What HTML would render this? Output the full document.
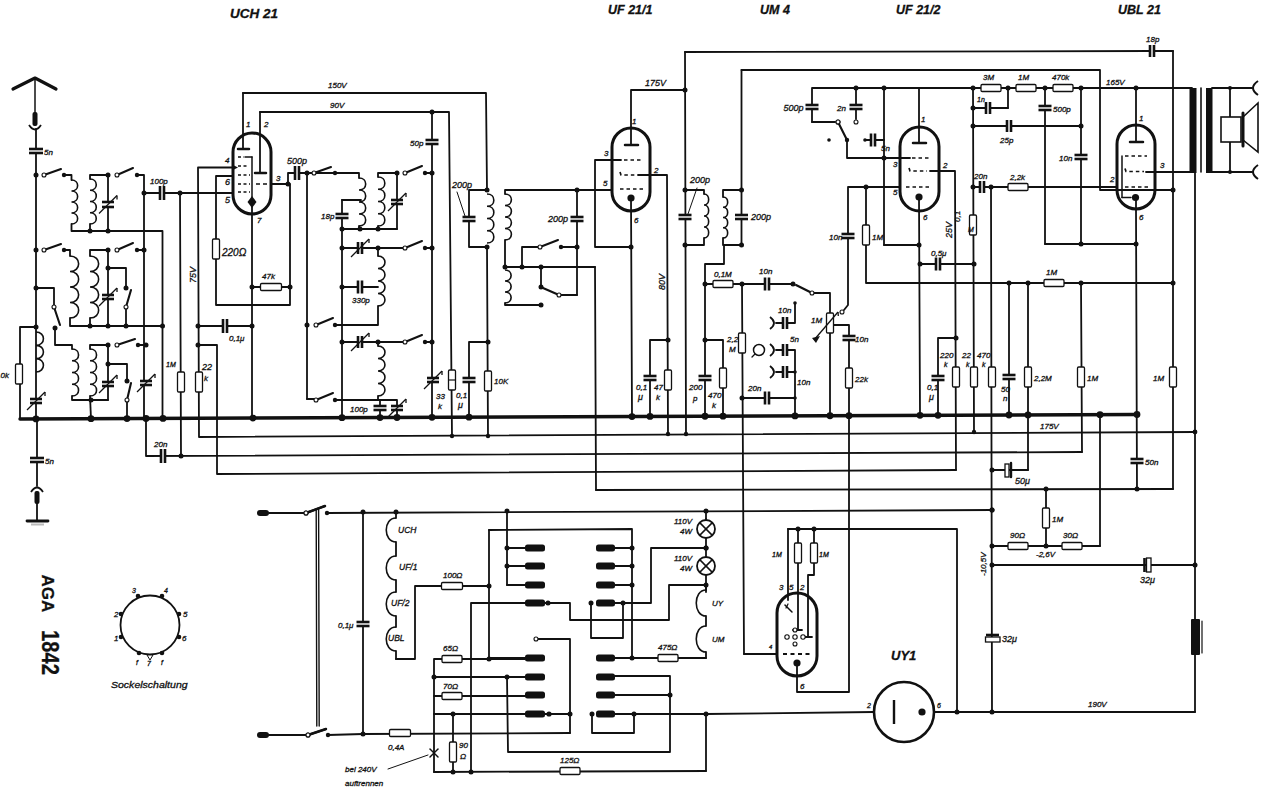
<!DOCTYPE html><html><head><meta charset="utf-8"><style>html,body{margin:0;padding:0;background:#fff;}svg{display:block;}</style></head><body>
<svg width="1275" height="801" viewBox="0 0 1275 801">
<rect width="1275" height="801" fill="#fff"/>
<g stroke="#111" stroke-linecap="round" stroke-linejoin="round" fill="none">
<polyline points="13,89 35,78 56,89" stroke-width="3.2" fill="none"/>
<line x1="35" y1="78" x2="35" y2="113" stroke-width="1.5"/>
<line x1="36" y1="129" x2="36" y2="419" stroke-width="1.8"/>
<line x1="37" y1="419" x2="37" y2="486" stroke-width="1.8"/>
<line x1="37" y1="503" x2="37" y2="520" stroke-width="1.8"/>
<line x1="27" y1="521" x2="48" y2="521" stroke-width="2.8"/>
<polyline points="64,175 71.5,175 71.5,180" stroke-width="1.8" fill="none"/>
<polyline points="71.5,224 71.5,231 162.5,231 162.5,419" stroke-width="1.8" fill="none"/>
<polyline points="108,175 90,175 90,179" stroke-width="1.8" fill="none"/>
<line x1="90" y1="224" x2="90" y2="231" stroke-width="1.8"/>
<line x1="108" y1="175" x2="108" y2="231" stroke-width="1.8"/>
<polyline points="137,175 144,175 144,419" stroke-width="1.8" fill="none"/>
<line x1="144" y1="193" x2="233" y2="193" stroke-width="1.8"/>
<polyline points="64,250 70,250 70,256" stroke-width="1.8" fill="none"/>
<polyline points="70,318 70,326 162.5,326" stroke-width="1.8" fill="none"/>
<polyline points="108,250 90,250 90,256" stroke-width="1.8" fill="none"/>
<line x1="90" y1="318" x2="90" y2="326" stroke-width="1.8"/>
<line x1="108" y1="250" x2="108" y2="326" stroke-width="1.8"/>
<line x1="137" y1="250" x2="144" y2="250" stroke-width="1.8"/>
<polyline points="108,268 126,268 126,288" stroke-width="1.8" fill="none"/>
<line x1="126" y1="307" x2="126" y2="326" stroke-width="1.8"/>
<polyline points="36,288 54,288 54,306" stroke-width="1.8" fill="none"/>
<polyline points="55,328 55,345 72,345 72,349" stroke-width="1.8" fill="none"/>
<polyline points="72,396 72,400 108,400" stroke-width="1.8" fill="none"/>
<polyline points="108,345 90,345 90,349" stroke-width="1.8" fill="none"/>
<line x1="90" y1="396" x2="91" y2="419" stroke-width="1.8"/>
<line x1="108" y1="345" x2="108" y2="400" stroke-width="1.8"/>
<line x1="138" y1="345" x2="146" y2="345" stroke-width="1.8"/>
<polyline points="108,364 127,364 127,381" stroke-width="1.8" fill="none"/>
<line x1="127" y1="400" x2="127" y2="419" stroke-width="1.8"/>
<polyline points="36,327 20,327 20,419" stroke-width="1.8" fill="none"/>
<line x1="20" y1="419" x2="1137" y2="414.5" stroke-width="3.4"/>
<polyline points="146,419 146,456 1082,452" stroke-width="1.8" fill="none"/>
<line x1="180" y1="193" x2="181" y2="456" stroke-width="1.8"/>
<polyline points="233,167.5 198,167.5 199,437 1195,432" stroke-width="1.8" fill="none"/>
<line x1="198" y1="326" x2="252" y2="326" stroke-width="1.8"/>
<polyline points="198,345 217,345 217,474 956,470" stroke-width="1.8" fill="none"/>
<polyline points="233,176 216,176 216,305 290,305 290,184" stroke-width="1.8" fill="none"/>
<line x1="243" y1="93" x2="243" y2="149" stroke-width="1.8"/>
<line x1="238" y1="149" x2="249" y2="149" stroke-width="2.5"/>
<line x1="260" y1="112" x2="260" y2="173" stroke-width="1.8"/>
<line x1="255" y1="173" x2="266" y2="173" stroke-width="2.5"/>
<line x1="245" y1="157" x2="252" y2="157" stroke-width="1.5"/>
<line x1="252" y1="157" x2="252" y2="201" stroke-width="1.5"/>
<line x1="252" y1="202" x2="252" y2="419" stroke-width="1.8"/>
<line x1="271" y1="184" x2="288" y2="184" stroke-width="1.8"/>
<line x1="252" y1="287" x2="290" y2="287" stroke-width="1.8"/>
<polyline points="243,93 486,93 487,190" stroke-width="1.8" fill="none"/>
<polyline points="260,112 449,112 452,436" stroke-width="1.8" fill="none"/>
<polyline points="288,184 288,173 335,173" stroke-width="1.8" fill="none"/>
<polyline points="335,173 359,173 359,178" stroke-width="1.8" fill="none"/>
<line x1="359" y1="226" x2="359" y2="229" stroke-width="1.8"/>
<line x1="342" y1="200" x2="361" y2="200" stroke-width="1.8"/>
<line x1="307" y1="173" x2="307" y2="399" stroke-width="1.8"/>
<line x1="307" y1="399" x2="314" y2="399" stroke-width="1.8"/>
<polyline points="335,325 378,325 378,306" stroke-width="1.8" fill="none"/>
<polyline points="335,400 397,400 397,419" stroke-width="1.8" fill="none"/>
<line x1="380" y1="400" x2="380" y2="419" stroke-width="1.8"/>
<line x1="342" y1="200" x2="342" y2="419" stroke-width="1.8"/>
<line x1="342" y1="229" x2="397" y2="229" stroke-width="1.8"/>
<polyline points="397,173 378,173 378,177" stroke-width="1.8" fill="none"/>
<line x1="378" y1="226" x2="378" y2="229" stroke-width="1.8"/>
<line x1="397" y1="173" x2="397" y2="229" stroke-width="1.8"/>
<line x1="425" y1="173" x2="432" y2="173" stroke-width="1.8"/>
<line x1="342" y1="248" x2="405" y2="248" stroke-width="1.8"/>
<line x1="425" y1="248" x2="432" y2="248" stroke-width="1.8"/>
<line x1="378" y1="248" x2="378" y2="256" stroke-width="1.8"/>
<line x1="342" y1="287" x2="378" y2="287" stroke-width="1.8"/>
<line x1="342" y1="342" x2="405" y2="342" stroke-width="1.8"/>
<line x1="425" y1="342" x2="432" y2="342" stroke-width="1.8"/>
<line x1="378" y1="342" x2="378" y2="346" stroke-width="1.8"/>
<line x1="378" y1="396" x2="378" y2="400" stroke-width="1.8"/>
<line x1="432" y1="112" x2="432" y2="419" stroke-width="1.8"/>
<line x1="448.5" y1="380" x2="455.5" y2="380" stroke-width="1.1"/>
<polyline points="488,342 469,342 469,419" stroke-width="1.8" fill="none"/>
<line x1="487" y1="247" x2="488" y2="436" stroke-width="1.8"/>
<polyline points="487,190 469,190 469,247 487,247" stroke-width="1.8" fill="none"/>
<line x1="457" y1="192" x2="465" y2="216" stroke-width="1"/>
<polyline points="505,194 505,190 612,190" stroke-width="1.8" fill="none"/>
<line x1="577" y1="190" x2="577" y2="295" stroke-width="1.8"/>
<polyline points="505,240 505,267 595,267" stroke-width="1.8" fill="none"/>
<polyline points="522,267 522,247 538,247" stroke-width="1.8" fill="none"/>
<line x1="561" y1="247" x2="577" y2="247" stroke-width="1.8"/>
<line x1="541" y1="267" x2="541" y2="287" stroke-width="1.8"/>
<line x1="559" y1="295" x2="577" y2="295" stroke-width="1.8"/>
<polyline points="505,303 505,305 541,305" stroke-width="1.8" fill="none"/>
<polyline points="631,145 631,90 685,90" stroke-width="1.8" fill="none"/>
<line x1="625" y1="145" x2="638" y2="145" stroke-width="2.5"/>
<polyline points="621,160 595,160 595,247 631,247" stroke-width="1.8" fill="none"/>
<line x1="631" y1="198" x2="632" y2="416" stroke-width="1.8"/>
<line x1="595" y1="267" x2="596" y2="490" stroke-width="1.8"/>
<polyline points="596,490 1173,489" stroke-width="1.8" fill="none"/>
<polyline points="638,175 667,175 668,434" stroke-width="1.8" fill="none"/>
<polyline points="668,340 650,340 650,416" stroke-width="1.8" fill="none"/>
<line x1="685" y1="52" x2="686" y2="434" stroke-width="1.8"/>
<polyline points="685,52 1152,51" stroke-width="1.8" fill="none"/>
<polyline points="685,190 704,190 704,194" stroke-width="1.8" fill="none"/>
<polyline points="704,238 704,245 685,245" stroke-width="1.8" fill="none"/>
<line x1="697" y1="188" x2="688" y2="214" stroke-width="1"/>
<polyline points="741.5,190 723,190 723,197" stroke-width="1.8" fill="none"/>
<polyline points="723,238 723,245 741.5,245" stroke-width="1.8" fill="none"/>
<polyline points="741.5,70 1100,70 1100,190 1173,190" stroke-width="1.8" fill="none"/>
<line x1="741.5" y1="70" x2="741.5" y2="245" stroke-width="1.8"/>
<polyline points="724,245 724,264 705,264 705,416" stroke-width="1.8" fill="none"/>
<line x1="705" y1="284" x2="793" y2="284" stroke-width="1.8"/>
<line x1="742" y1="284" x2="744" y2="654" stroke-width="1.8"/>
<polyline points="812,293 830,293 830,416" stroke-width="1.8" fill="none"/>
<polyline points="844,310 848,305 848,187 900,187" stroke-width="1.8" fill="none"/>
<polyline points="830,325 849,325 849,692 797,692 797,675" stroke-width="1.8" fill="none"/>
<polyline points="705,340 723,340 723,416" stroke-width="1.8" fill="none"/>
<line x1="776" y1="323" x2="782" y2="323" stroke-width="1.8"/>
<polyline points="787,323 795,323 795,303" stroke-width="1.8" fill="none"/>
<line x1="752" y1="357" x2="755" y2="354" stroke-width="1.3"/>
<line x1="776" y1="350" x2="782" y2="350" stroke-width="1.8"/>
<polyline points="787,350 795,350 795,398" stroke-width="1.8" fill="none"/>
<line x1="776" y1="372" x2="782" y2="372" stroke-width="1.8"/>
<line x1="787" y1="372" x2="795" y2="372" stroke-width="1.8"/>
<polyline points="742,398 795,398 795,416" stroke-width="1.8" fill="none"/>
<polyline points="812,122 812,88 1192,88" stroke-width="1.8" fill="none"/>
<line x1="812" y1="122" x2="835" y2="122" stroke-width="1.8"/>
<line x1="856" y1="88" x2="856" y2="119" stroke-width="1.8"/>
<polyline points="847,140 847,158 910,158" stroke-width="1.8" fill="none"/>
<line x1="884" y1="88" x2="884" y2="245" stroke-width="1.8"/>
<line x1="865" y1="140" x2="884" y2="140" stroke-width="1.8"/>
<line x1="919" y1="88" x2="919" y2="143" stroke-width="1.8"/>
<line x1="913" y1="143" x2="926" y2="143" stroke-width="2.5"/>
<line x1="919" y1="197" x2="920" y2="414" stroke-width="1.8"/>
<polyline points="930,171 955,171 956,470" stroke-width="1.8" fill="none"/>
<polyline points="866,187 866,283 1173,283" stroke-width="1.8" fill="none"/>
<line x1="884" y1="245" x2="919" y2="245" stroke-width="1.8"/>
<line x1="920" y1="264" x2="974" y2="264" stroke-width="1.8"/>
<line x1="973" y1="88" x2="974" y2="432" stroke-width="1.8"/>
<line x1="973" y1="108" x2="1008" y2="108" stroke-width="1.8"/>
<line x1="1008" y1="108" x2="1008" y2="88" stroke-width="1.8"/>
<line x1="973" y1="126" x2="1081" y2="126" stroke-width="1.8"/>
<line x1="1045" y1="88" x2="1045" y2="244" stroke-width="1.8"/>
<polyline points="1045,244 1136,244" stroke-width="1.8" fill="none"/>
<line x1="1081" y1="88" x2="1081" y2="244" stroke-width="1.8"/>
<line x1="973" y1="187" x2="1117" y2="187" stroke-width="1.8"/>
<line x1="991" y1="187" x2="992" y2="712" stroke-width="1.8"/>
<line x1="1009" y1="283" x2="1009" y2="414" stroke-width="1.8"/>
<polyline points="1028,283 1028,470 1000,470" stroke-width="1.8" fill="none"/>
<polyline points="1081,283 1082,452" stroke-width="1.8" fill="none"/>
<line x1="1100" y1="414" x2="1100" y2="546" stroke-width="1.8"/>
<line x1="1136" y1="209" x2="1137" y2="489" stroke-width="1.8"/>
<line x1="1173" y1="51" x2="1173" y2="489" stroke-width="1.8"/>
<line x1="1152" y1="51" x2="1173" y2="51" stroke-width="1.8"/>
<polyline points="956,338 938,338 938,414" stroke-width="1.8" fill="none"/>
<line x1="1136" y1="88" x2="1136" y2="142" stroke-width="1.8"/>
<line x1="1130" y1="142" x2="1143" y2="142" stroke-width="2.5"/>
<line x1="1122" y1="156" x2="1122" y2="197.5" stroke-width="1.5"/>
<line x1="1122" y1="197.5" x2="1131" y2="197.5" stroke-width="1.5"/>
<line x1="1146" y1="172" x2="1192" y2="172" stroke-width="1.8"/>
<line x1="1136" y1="198" x2="1136" y2="209" stroke-width="1.8"/>
<line x1="1201" y1="88" x2="1201" y2="172" stroke-width="1.6"/>
<line x1="1195" y1="172" x2="1195" y2="712" stroke-width="1.8"/>
<line x1="1212" y1="88" x2="1252" y2="88" stroke-width="1.8"/>
<line x1="1212" y1="172" x2="1252" y2="172" stroke-width="1.8"/>
<line x1="1230" y1="88" x2="1230" y2="117" stroke-width="1.8"/>
<line x1="1230" y1="142" x2="1230" y2="172" stroke-width="1.8"/>
<line x1="1243" y1="113" x2="1243" y2="146" stroke-width="3"/>
<line x1="269" y1="513" x2="304" y2="513" stroke-width="1.8"/>
<line x1="327" y1="513" x2="992" y2="510" stroke-width="1.8"/>
<line x1="269" y1="735" x2="306" y2="735" stroke-width="1.8"/>
<line x1="328" y1="735" x2="363" y2="734" stroke-width="1.8"/>
<line x1="363" y1="734" x2="570" y2="733" stroke-width="1.8"/>
<line x1="316.2" y1="509" x2="316.8" y2="726" stroke-width="1.4"/>
<line x1="318.6" y1="509" x2="319.2" y2="726" stroke-width="1.4"/>
<line x1="363" y1="512" x2="363" y2="734" stroke-width="1.8"/>
<line x1="396" y1="512" x2="396" y2="518" stroke-width="1.8"/>
<line x1="396" y1="542" x2="396" y2="556" stroke-width="1.8"/>
<line x1="396" y1="580" x2="396" y2="592" stroke-width="1.8"/>
<line x1="396" y1="616" x2="396" y2="627" stroke-width="1.8"/>
<line x1="396" y1="651" x2="396" y2="659" stroke-width="1.8"/>
<polyline points="396,659 415,659 415,586 489,586" stroke-width="1.8" fill="none"/>
<polyline points="489,530 632,529 632,658" stroke-width="1.8" fill="none"/>
<line x1="489" y1="530" x2="489" y2="659" stroke-width="1.8"/>
<line x1="507" y1="511" x2="507" y2="585" stroke-width="1.8"/>
<line x1="507" y1="548" x2="525" y2="548" stroke-width="1.8"/>
<line x1="615" y1="548" x2="632" y2="548" stroke-width="1.8"/>
<line x1="507" y1="566" x2="525" y2="566" stroke-width="1.8"/>
<line x1="615" y1="566" x2="632" y2="566" stroke-width="1.8"/>
<line x1="507" y1="585" x2="525" y2="585" stroke-width="1.8"/>
<line x1="615" y1="585" x2="632" y2="585" stroke-width="1.8"/>
<line x1="545" y1="603" x2="548" y2="603" stroke-width="1.8"/>
<polyline points="548,603 570,603 570,620 669,620 669,585 706,585" stroke-width="1.8" fill="none"/>
<polyline points="471,772 471,603 525,603" stroke-width="1.8" fill="none"/>
<polyline points="591,603 591,638 623,638 623,603" stroke-width="1.8" fill="none"/>
<polyline points="615,603 651,603 651,548 706,548" stroke-width="1.8" fill="none"/>
<polyline points="538,639 570,639 570,733" stroke-width="1.8" fill="none"/>
<line x1="545" y1="714" x2="570" y2="714" stroke-width="1.8"/>
<line x1="706" y1="511" x2="706" y2="519" stroke-width="1.8"/>
<line x1="706" y1="519" x2="706" y2="592" stroke-width="1.8"/>
<line x1="706" y1="585" x2="706" y2="590" stroke-width="1.8"/>
<line x1="706" y1="616" x2="706" y2="626" stroke-width="1.8"/>
<line x1="706" y1="652" x2="706" y2="658" stroke-width="1.8"/>
<polyline points="632,658 706,658" stroke-width="1.8" fill="none"/>
<line x1="489" y1="658" x2="525" y2="658" stroke-width="1.8"/>
<line x1="615" y1="658" x2="632" y2="658" stroke-width="1.8"/>
<polyline points="434,772 434,659 442,659" stroke-width="1.8" fill="none"/>
<line x1="462" y1="659" x2="525" y2="659" stroke-width="1.8"/>
<line x1="434" y1="677" x2="525" y2="677" stroke-width="1.8"/>
<polyline points="507,677 508,752 670,752 670,676 615,676" stroke-width="1.8" fill="none"/>
<line x1="434" y1="696" x2="525" y2="696" stroke-width="1.8"/>
<polyline points="615,695 670,695" stroke-width="1.8" fill="none"/>
<polyline points="434,714 525,714" stroke-width="1.8" fill="none"/>
<line x1="453" y1="714" x2="453" y2="772" stroke-width="1.8"/>
<line x1="434" y1="772" x2="706" y2="771" stroke-width="1.8"/>
<polyline points="592,714 592,733 634,733 634,714" stroke-width="1.8" fill="none"/>
<line x1="615" y1="714" x2="706" y2="714" stroke-width="1.8"/>
<line x1="706" y1="714" x2="874" y2="712" stroke-width="1.8"/>
<line x1="706" y1="714" x2="706" y2="771" stroke-width="1.8"/>
<line x1="430" y1="749" x2="438" y2="757" stroke-width="1.5"/>
<line x1="430" y1="757" x2="438" y2="749" stroke-width="1.5"/>
<line x1="388" y1="769" x2="428" y2="755" stroke-width="1"/>
<line x1="744" y1="654" x2="777" y2="654" stroke-width="1.8"/>
<polyline points="788,529 957,529 957,712" stroke-width="1.8" fill="none"/>
<line x1="788" y1="529" x2="788" y2="600" stroke-width="1.8"/>
<line x1="798" y1="529" x2="798" y2="630" stroke-width="1.8"/>
<polyline points="814,529 814,575 808,575 808,637" stroke-width="1.8" fill="none"/>
<line x1="785" y1="605" x2="792" y2="612" stroke-width="1.5"/>
<line x1="788" y1="604" x2="786" y2="608" stroke-width="1.2"/>
<line x1="793" y1="630" x2="802" y2="630" stroke-width="1.8"/>
<line x1="804" y1="637" x2="812" y2="637" stroke-width="1.8"/>
<line x1="797" y1="663" x2="797" y2="676" stroke-width="1.8"/>
<line x1="922" y1="712" x2="934" y2="712" stroke-width="1.8"/>
<line x1="934" y1="712" x2="1195" y2="712" stroke-width="1.8"/>
<line x1="992" y1="470" x2="1003" y2="470" stroke-width="1.8"/>
<line x1="1011" y1="463" x2="1011" y2="477" stroke-width="2.4"/>
<polyline points="1012,470 1028,470" stroke-width="1.8" fill="none"/>
<line x1="1046" y1="489" x2="1046" y2="546" stroke-width="1.8"/>
<line x1="992" y1="546" x2="1100" y2="546" stroke-width="1.8"/>
<line x1="992" y1="565" x2="1195" y2="565" stroke-width="1.8"/>
<line x1="1202" y1="621" x2="1202" y2="653" stroke-width="1.2"/>
</g>
<g stroke="#111" stroke-linecap="butt" fill="none">
<rect x="32.5" y="112" width="5" height="14" rx="2" fill="#111" stroke="none"/>
<path d="M29,125 Q35,134 41,125" fill="none" stroke-width="1.8"/>
<rect x="29" y="149" width="14" height="4" fill="#fff" stroke="none"/>
<line x1="29" y1="149" x2="43" y2="149" stroke-width="2.6"/>
<line x1="29" y1="153" x2="43" y2="153" stroke-width="2.6"/>
<rect x="30" y="458" width="14" height="4" fill="#fff" stroke="none"/>
<line x1="30" y1="458" x2="44" y2="458" stroke-width="2.6"/>
<line x1="30" y1="462" x2="44" y2="462" stroke-width="2.6"/>
<path d="M31,492 Q37,483 43,492" fill="none" stroke-width="1.8"/>
<rect x="34.5" y="491" width="5" height="13" rx="2" fill="#111" stroke="none"/>
<line x1="31" y1="524.5" x2="44" y2="524.5" stroke="#bbb" stroke-width="2"/>
<circle cx="36" cy="175" r="2.5" fill="#111" stroke="none"/>
<line x1="44" y1="175" x2="61" y2="169" stroke-width="2.1" stroke-linecap="round"/>
<circle cx="44" cy="175" r="2" fill="#fff" stroke-width="1.1"/>
<circle cx="64" cy="175" r="2.2" fill="#111" stroke="none"/>
<path d="M71.5,180 C79.67,180 79.67,191 71.5,191 C79.67,191 79.67,202 71.5,202 C79.67,202 79.67,213 71.5,213 C79.67,213 79.67,224 71.5,224" fill="none" stroke-width="1.6"/>
<path d="M90,179 C98.35,179 98.35,190.25 90,190.25 C98.35,190.25 98.35,201.5 90,201.5 C98.35,201.5 98.35,212.75 90,212.75 C98.35,212.75 98.35,224 90,224" fill="none" stroke-width="1.6"/>
<circle cx="90" cy="231" r="2.5" fill="#111" stroke="none"/>
<circle cx="108" cy="231" r="2.5" fill="#111" stroke="none"/>
<rect x="102" y="202" width="12" height="5" fill="#fff" stroke="none"/>
<line x1="102" y1="202" x2="114" y2="202" stroke-width="2.6"/>
<line x1="102" y1="207" x2="114" y2="207" stroke-width="2.6"/>
<line x1="99" y1="213.5" x2="117" y2="195.5" stroke-width="1.3"/>
<line x1="117" y1="195.5" x2="117" y2="199.5" stroke-width="1.3"/>
<circle cx="108" cy="175" r="2.5" fill="#111" stroke="none"/>
<line x1="117" y1="175" x2="133" y2="168" stroke-width="2.1" stroke-linecap="round"/>
<circle cx="117" cy="175" r="2" fill="#fff" stroke-width="1.1"/>
<circle cx="137" cy="175" r="2.2" fill="#111" stroke="none"/>
<circle cx="144" cy="193" r="2.5" fill="#111" stroke="none"/>
<rect x="160" y="186" width="4" height="14" fill="#fff" stroke="none"/>
<line x1="160" y1="186" x2="160" y2="200" stroke-width="2.6"/>
<line x1="164" y1="186" x2="164" y2="200" stroke-width="2.6"/>
<circle cx="180" cy="193" r="2.5" fill="#111" stroke="none"/>
<circle cx="36" cy="250" r="2.5" fill="#111" stroke="none"/>
<line x1="44" y1="250" x2="61" y2="244" stroke-width="2.1" stroke-linecap="round"/>
<circle cx="44" cy="250" r="2" fill="#fff" stroke-width="1.1"/>
<circle cx="64" cy="250" r="2.2" fill="#111" stroke="none"/>
<path d="M70,256 C81.51,256 81.51,271.5 70,271.5 C81.51,271.5 81.51,287 70,287 C81.51,287 81.51,302.5 70,302.5 C81.51,302.5 81.51,318 70,318" fill="none" stroke-width="1.6"/>
<path d="M90,256 C101.51,256 101.51,271.5 90,271.5 C101.51,271.5 101.51,287 90,287 C101.51,287 101.51,302.5 90,302.5 C101.51,302.5 101.51,318 90,318" fill="none" stroke-width="1.6"/>
<rect x="102" y="295" width="12" height="4" fill="#fff" stroke="none"/>
<line x1="102" y1="295" x2="114" y2="295" stroke-width="2.6"/>
<line x1="102" y1="299" x2="114" y2="299" stroke-width="2.6"/>
<line x1="99" y1="306" x2="117" y2="288" stroke-width="1.3"/>
<line x1="117" y1="288" x2="117" y2="292" stroke-width="1.3"/>
<circle cx="108" cy="250" r="2.5" fill="#111" stroke="none"/>
<line x1="117" y1="250" x2="133" y2="243" stroke-width="2.1" stroke-linecap="round"/>
<circle cx="117" cy="250" r="2" fill="#fff" stroke-width="1.1"/>
<circle cx="137" cy="250" r="2.2" fill="#111" stroke="none"/>
<circle cx="144" cy="250" r="2.5" fill="#111" stroke="none"/>
<circle cx="108" cy="268" r="2.5" fill="#111" stroke="none"/>
<circle cx="126" cy="288" r="2.5" fill="#111" stroke="none"/>
<line x1="126" y1="307" x2="131" y2="290" stroke-width="2.1" stroke-linecap="round"/>
<circle cx="126" cy="307" r="2" fill="#fff" stroke-width="1.1"/>
<circle cx="90" cy="326" r="2.5" fill="#111" stroke="none"/>
<circle cx="108" cy="326" r="2.5" fill="#111" stroke="none"/>
<circle cx="126" cy="326" r="2.5" fill="#111" stroke="none"/>
<circle cx="162.5" cy="326" r="2.5" fill="#111" stroke="none"/>
<circle cx="36" cy="288" r="2.5" fill="#111" stroke="none"/>
<line x1="54" y1="307" x2="60" y2="325" stroke-width="2.1" stroke-linecap="round"/>
<circle cx="54" cy="307" r="2" fill="#fff" stroke-width="1.1"/>
<circle cx="55" cy="328" r="2.5" fill="#111" stroke="none"/>
<path d="M72,349 C80.72,349 80.72,360.75 72,360.75 C80.72,360.75 80.72,372.5 72,372.5 C80.72,372.5 80.72,384.25 72,384.25 C80.72,384.25 80.72,396 72,396" fill="none" stroke-width="1.6"/>
<path d="M90,349 C98.72,349 98.72,360.75 90,360.75 C98.72,360.75 98.72,372.5 90,372.5 C98.72,372.5 98.72,384.25 90,384.25 C98.72,384.25 98.72,396 90,396" fill="none" stroke-width="1.6"/>
<circle cx="91" cy="400" r="2.5" fill="#111" stroke="none"/>
<rect x="102" y="382" width="12" height="4" fill="#fff" stroke="none"/>
<line x1="102" y1="382" x2="114" y2="382" stroke-width="2.6"/>
<line x1="102" y1="386" x2="114" y2="386" stroke-width="2.6"/>
<line x1="99" y1="393" x2="117" y2="375" stroke-width="1.3"/>
<line x1="117" y1="375" x2="117" y2="379" stroke-width="1.3"/>
<circle cx="108" cy="345" r="2.5" fill="#111" stroke="none"/>
<line x1="117" y1="345" x2="135" y2="339" stroke-width="2.1" stroke-linecap="round"/>
<circle cx="117" cy="345" r="2" fill="#fff" stroke-width="1.1"/>
<circle cx="138" cy="345" r="2.2" fill="#111" stroke="none"/>
<circle cx="146" cy="345" r="2.5" fill="#111" stroke="none"/>
<circle cx="108" cy="364" r="2.5" fill="#111" stroke="none"/>
<circle cx="127" cy="381" r="2.5" fill="#111" stroke="none"/>
<line x1="127" y1="400" x2="131" y2="383" stroke-width="2.1" stroke-linecap="round"/>
<circle cx="127" cy="400" r="2" fill="#fff" stroke-width="1.1"/>
<rect x="140" y="381" width="12" height="4" fill="#fff" stroke="none"/>
<line x1="140" y1="381" x2="152" y2="381" stroke-width="2.6"/>
<line x1="140" y1="385" x2="152" y2="385" stroke-width="2.6"/>
<line x1="137" y1="392" x2="155" y2="374" stroke-width="1.3"/>
<line x1="155" y1="374" x2="155" y2="378" stroke-width="1.3"/>
<circle cx="36" cy="327" r="2.5" fill="#111" stroke="none"/>
<rect x="15.5" y="364" width="7" height="20" rx="1.2" fill="#fff" stroke-width="1.3"/>
<path d="M36,332 C45.9,332 45.9,345.33 36,345.33 C45.9,345.33 45.9,358.67 36,358.67 C45.9,358.67 45.9,372 36,372" fill="none" stroke-width="1.6"/>
<rect x="30" y="399" width="12" height="4" fill="#fff" stroke="none"/>
<line x1="30" y1="399" x2="42" y2="399" stroke-width="2.6"/>
<line x1="30" y1="403" x2="42" y2="403" stroke-width="2.6"/>
<line x1="27" y1="410" x2="45" y2="392" stroke-width="1.3"/>
<line x1="45" y1="392" x2="45" y2="396" stroke-width="1.3"/>
<circle cx="36" cy="418.94" r="3.4" fill="#111" stroke="none"/>
<circle cx="91" cy="418.71" r="3.4" fill="#111" stroke="none"/>
<circle cx="127" cy="418.57" r="3.4" fill="#111" stroke="none"/>
<circle cx="146" cy="418.49" r="3.4" fill="#111" stroke="none"/>
<circle cx="163" cy="418.42" r="3.4" fill="#111" stroke="none"/>
<circle cx="253" cy="418.06" r="3.4" fill="#111" stroke="none"/>
<circle cx="342" cy="417.7" r="3.4" fill="#111" stroke="none"/>
<circle cx="380" cy="417.55" r="3.4" fill="#111" stroke="none"/>
<circle cx="397" cy="417.48" r="3.4" fill="#111" stroke="none"/>
<circle cx="432" cy="417.34" r="3.4" fill="#111" stroke="none"/>
<circle cx="469" cy="417.19" r="3.4" fill="#111" stroke="none"/>
<circle cx="632" cy="416.53" r="3.4" fill="#111" stroke="none"/>
<circle cx="650" cy="416.46" r="3.4" fill="#111" stroke="none"/>
<circle cx="705" cy="416.24" r="3.4" fill="#111" stroke="none"/>
<circle cx="723" cy="416.17" r="3.4" fill="#111" stroke="none"/>
<circle cx="795" cy="415.88" r="3.4" fill="#111" stroke="none"/>
<circle cx="830" cy="415.74" r="3.4" fill="#111" stroke="none"/>
<circle cx="849" cy="415.66" r="3.4" fill="#111" stroke="none"/>
<circle cx="920" cy="415.37" r="3.4" fill="#111" stroke="none"/>
<circle cx="938" cy="415.3" r="3.4" fill="#111" stroke="none"/>
<circle cx="1009" cy="415.02" r="3.4" fill="#111" stroke="none"/>
<circle cx="1028" cy="414.94" r="3.4" fill="#111" stroke="none"/>
<circle cx="1100" cy="414.65" r="3.4" fill="#111" stroke="none"/>
<circle cx="1137" cy="414.5" r="3.4" fill="#111" stroke="none"/>
<rect x="161" y="449" width="4" height="14" fill="#fff" stroke="none"/>
<line x1="161" y1="449" x2="161" y2="463" stroke-width="2.6"/>
<line x1="165" y1="449" x2="165" y2="463" stroke-width="2.6"/>
<circle cx="181" cy="456" r="2.5" fill="#111" stroke="none"/>
<rect x="177.5" y="372" width="7" height="20" rx="1.2" fill="#fff" stroke-width="1.3"/>
<rect x="195.5" y="372" width="7" height="20" rx="1.2" fill="#fff" stroke-width="1.3"/>
<circle cx="198" cy="326" r="2.5" fill="#111" stroke="none"/>
<circle cx="198" cy="345" r="2.5" fill="#111" stroke="none"/>
<rect x="223" y="319" width="4" height="14" fill="#fff" stroke="none"/>
<line x1="223" y1="319" x2="223" y2="333" stroke-width="2.6"/>
<line x1="227" y1="319" x2="227" y2="333" stroke-width="2.6"/>
<rect x="212.5" y="239" width="7" height="20" rx="1.2" fill="#fff" stroke-width="1.3"/>
<rect x="233" y="133" width="38" height="81" rx="19" ry="19" fill="none" stroke-width="3"/>
<line x1="238" y1="157" x2="244" y2="157" stroke-width="1.6" stroke-dasharray="3 2.5"/>
<line x1="238" y1="166" x2="249" y2="166" stroke-width="1.6" stroke-dasharray="3 2.5"/>
<line x1="238" y1="175" x2="250" y2="175" stroke-width="1.6" stroke-dasharray="3 2.5"/>
<line x1="238" y1="184" x2="250" y2="184" stroke-width="1.6" stroke-dasharray="3 2.5"/>
<line x1="256" y1="184" x2="271" y2="184" stroke-width="1.6" stroke-dasharray="4 3"/>
<line x1="238" y1="192" x2="250" y2="192" stroke-width="1.6" stroke-dasharray="3 2.5"/>
<path d="M252,196 L256.5,202 L252,208 L247.5,202 Z" fill="#111" stroke="none"/>
<circle cx="288" cy="184" r="2.5" fill="#111" stroke="none"/>
<path d="M233,165 L238,167.5 L233,170 Z" fill="#111" stroke="none"/>
<circle cx="252" cy="287" r="2.5" fill="#111" stroke="none"/>
<rect x="260.5" y="283.5" width="21" height="7" rx="1.2" fill="#fff" stroke-width="1.3"/>
<circle cx="290" cy="287" r="2.5" fill="#111" stroke="none"/>
<circle cx="252" cy="326" r="2.5" fill="#111" stroke="none"/>
<circle cx="432" cy="112" r="2.5" fill="#111" stroke="none"/>
<rect x="295" y="166" width="4" height="14" fill="#fff" stroke="none"/>
<line x1="295" y1="166" x2="295" y2="180" stroke-width="2.6"/>
<line x1="299" y1="166" x2="299" y2="180" stroke-width="2.6"/>
<circle cx="307" cy="173" r="2.5" fill="#111" stroke="none"/>
<line x1="314" y1="173" x2="331" y2="167" stroke-width="2.1" stroke-linecap="round"/>
<circle cx="314" cy="173" r="2" fill="#fff" stroke-width="1.1"/>
<circle cx="335" cy="173" r="2.2" fill="#111" stroke="none"/>
<path d="M359,178 C367.91,178 367.91,190 359,190 C367.91,190 367.91,202 359,202 C367.91,202 367.91,214 359,214 C367.91,214 367.91,226 359,226" fill="none" stroke-width="1.6"/>
<circle cx="307" cy="325" r="2.5" fill="#111" stroke="none"/>
<line x1="316" y1="325" x2="333" y2="318" stroke-width="2.1" stroke-linecap="round"/>
<circle cx="316" cy="325" r="2" fill="#fff" stroke-width="1.1"/>
<circle cx="335" cy="325" r="2.2" fill="#111" stroke="none"/>
<line x1="316" y1="400" x2="333" y2="393" stroke-width="2.1" stroke-linecap="round"/>
<circle cx="316" cy="400" r="2" fill="#fff" stroke-width="1.1"/>
<circle cx="335" cy="400" r="2.2" fill="#111" stroke="none"/>
<rect x="373.5" y="406" width="13" height="4" fill="#fff" stroke="none"/>
<line x1="373.5" y1="406" x2="386.5" y2="406" stroke-width="2.6"/>
<line x1="373.5" y1="410" x2="386.5" y2="410" stroke-width="2.6"/>
<rect x="391" y="406" width="12" height="4" fill="#fff" stroke="none"/>
<line x1="391" y1="406" x2="403" y2="406" stroke-width="2.6"/>
<line x1="391" y1="410" x2="403" y2="410" stroke-width="2.6"/>
<line x1="388" y1="417" x2="406" y2="399" stroke-width="1.3"/>
<line x1="406" y1="399" x2="406" y2="403" stroke-width="1.3"/>
<rect x="335.5" y="214" width="13" height="4" fill="#fff" stroke="none"/>
<line x1="335.5" y1="214" x2="348.5" y2="214" stroke-width="2.6"/>
<line x1="335.5" y1="218" x2="348.5" y2="218" stroke-width="2.6"/>
<circle cx="342" cy="229" r="2.5" fill="#111" stroke="none"/>
<circle cx="360" cy="229" r="2.5" fill="#111" stroke="none"/>
<circle cx="378" cy="229" r="2.5" fill="#111" stroke="none"/>
<path d="M378,177 C387.1,177 387.1,189.25 378,189.25 C387.1,189.25 387.1,201.5 378,201.5 C387.1,201.5 387.1,213.75 378,213.75 C387.1,213.75 387.1,226 378,226" fill="none" stroke-width="1.6"/>
<rect x="391" y="200" width="12" height="4" fill="#fff" stroke="none"/>
<line x1="391" y1="200" x2="403" y2="200" stroke-width="2.6"/>
<line x1="391" y1="204" x2="403" y2="204" stroke-width="2.6"/>
<line x1="388" y1="211" x2="406" y2="193" stroke-width="1.3"/>
<line x1="406" y1="193" x2="406" y2="197" stroke-width="1.3"/>
<circle cx="397" cy="173" r="2.5" fill="#111" stroke="none"/>
<line x1="405" y1="173" x2="422" y2="166" stroke-width="2.1" stroke-linecap="round"/>
<circle cx="405" cy="173" r="2" fill="#fff" stroke-width="1.1"/>
<circle cx="425" cy="173" r="2.2" fill="#111" stroke="none"/>
<circle cx="432" cy="173" r="2.5" fill="#111" stroke="none"/>
<circle cx="342" cy="248" r="2.5" fill="#111" stroke="none"/>
<circle cx="342" cy="287" r="2.5" fill="#111" stroke="none"/>
<circle cx="342" cy="342" r="2.5" fill="#111" stroke="none"/>
<rect x="358" y="242" width="4" height="12" fill="#fff" stroke="none"/>
<line x1="358" y1="242" x2="358" y2="254" stroke-width="2.6"/>
<line x1="362" y1="242" x2="362" y2="254" stroke-width="2.6"/>
<line x1="351" y1="257" x2="369" y2="239" stroke-width="1.3"/>
<line x1="369" y1="239" x2="369" y2="243" stroke-width="1.3"/>
<circle cx="378" cy="248" r="2.5" fill="#111" stroke="none"/>
<line x1="405" y1="248" x2="422" y2="241" stroke-width="2.1" stroke-linecap="round"/>
<circle cx="405" cy="248" r="2" fill="#fff" stroke-width="1.1"/>
<circle cx="425" cy="248" r="2.2" fill="#111" stroke="none"/>
<circle cx="432" cy="248" r="2.5" fill="#111" stroke="none"/>
<path d="M378,256 C387.28,256 387.28,268.5 378,268.5 C387.28,268.5 387.28,281 378,281 C387.28,281 387.28,293.5 378,293.5 C387.28,293.5 387.28,306 378,306" fill="none" stroke-width="1.6"/>
<rect x="358" y="280.5" width="4" height="13" fill="#fff" stroke="none"/>
<line x1="358" y1="280.5" x2="358" y2="293.5" stroke-width="2.6"/>
<line x1="362" y1="280.5" x2="362" y2="293.5" stroke-width="2.6"/>
<rect x="358" y="336" width="4" height="12" fill="#fff" stroke="none"/>
<line x1="358" y1="336" x2="358" y2="348" stroke-width="2.6"/>
<line x1="362" y1="336" x2="362" y2="348" stroke-width="2.6"/>
<line x1="351" y1="351" x2="369" y2="333" stroke-width="1.3"/>
<line x1="369" y1="333" x2="369" y2="337" stroke-width="1.3"/>
<circle cx="378" cy="342" r="2.5" fill="#111" stroke="none"/>
<line x1="405" y1="342" x2="422" y2="335" stroke-width="2.1" stroke-linecap="round"/>
<circle cx="405" cy="342" r="2" fill="#fff" stroke-width="1.1"/>
<circle cx="425" cy="342" r="2.2" fill="#111" stroke="none"/>
<circle cx="432" cy="342" r="2.5" fill="#111" stroke="none"/>
<path d="M378,346 C387.28,346 387.28,358.5 378,358.5 C387.28,358.5 387.28,371 378,371 C387.28,371 387.28,383.5 378,383.5 C387.28,383.5 387.28,396 378,396" fill="none" stroke-width="1.6"/>
<rect x="425.5" y="140" width="13" height="4" fill="#fff" stroke="none"/>
<line x1="425.5" y1="140" x2="438.5" y2="140" stroke-width="2.6"/>
<line x1="425.5" y1="144" x2="438.5" y2="144" stroke-width="2.6"/>
<rect x="427" y="378" width="12" height="4" fill="#fff" stroke="none"/>
<line x1="427" y1="378" x2="439" y2="378" stroke-width="2.6"/>
<line x1="427" y1="382" x2="439" y2="382" stroke-width="2.6"/>
<line x1="424" y1="389" x2="442" y2="371" stroke-width="1.3"/>
<line x1="442" y1="371" x2="442" y2="375" stroke-width="1.3"/>
<rect x="448.5" y="370" width="7" height="20" rx="1.2" fill="#fff" stroke-width="1.3"/>
<line x1="448.5" y1="380" x2="455.5" y2="380" stroke-width="1.2"/>
<circle cx="452" cy="436" r="2.2" fill="#111" stroke="none"/>
<rect x="462.5" y="378" width="13" height="4" fill="#fff" stroke="none"/>
<line x1="462.5" y1="378" x2="475.5" y2="378" stroke-width="2.6"/>
<line x1="462.5" y1="382" x2="475.5" y2="382" stroke-width="2.6"/>
<circle cx="488" cy="342" r="2.5" fill="#111" stroke="none"/>
<rect x="484.5" y="371" width="7" height="20" rx="1.2" fill="#fff" stroke-width="1.3"/>
<circle cx="488" cy="436" r="2.2" fill="#111" stroke="none"/>
<circle cx="487" cy="190" r="2.5" fill="#111" stroke="none"/>
<circle cx="487" cy="247" r="2.5" fill="#111" stroke="none"/>
<rect x="462.5" y="217" width="13" height="4" fill="#fff" stroke="none"/>
<line x1="462.5" y1="217" x2="475.5" y2="217" stroke-width="2.6"/>
<line x1="462.5" y1="221" x2="475.5" y2="221" stroke-width="2.6"/>
<path d="M487,194 C496.1,194 496.1,206.25 487,206.25 C496.1,206.25 496.1,218.5 487,218.5 C496.1,218.5 496.1,230.75 487,230.75 C496.1,230.75 496.1,243 487,243" fill="none" stroke-width="1.6"/>
<path d="M505,194 C513.54,194 513.54,205.5 505,205.5 C513.54,205.5 513.54,217 505,217 C513.54,217 513.54,228.5 505,228.5 C513.54,228.5 513.54,240 505,240" fill="none" stroke-width="1.6"/>
<circle cx="577" cy="190" r="2.5" fill="#111" stroke="none"/>
<rect x="570.5" y="217" width="13" height="4" fill="#fff" stroke="none"/>
<line x1="570.5" y1="217" x2="583.5" y2="217" stroke-width="2.6"/>
<line x1="570.5" y1="221" x2="583.5" y2="221" stroke-width="2.6"/>
<circle cx="577" cy="247" r="2.5" fill="#111" stroke="none"/>
<circle cx="505" cy="267" r="2.5" fill="#111" stroke="none"/>
<circle cx="522" cy="267" r="2.5" fill="#111" stroke="none"/>
<circle cx="541" cy="267" r="2.5" fill="#111" stroke="none"/>
<line x1="540" y1="247" x2="558" y2="240" stroke-width="2.1" stroke-linecap="round"/>
<circle cx="540" cy="247" r="2" fill="#fff" stroke-width="1.1"/>
<circle cx="561" cy="247" r="2.2" fill="#111" stroke="none"/>
<circle cx="541" cy="287" r="2.5" fill="#111" stroke="none"/>
<line x1="559" y1="295" x2="543" y2="288" stroke-width="2.1" stroke-linecap="round"/>
<circle cx="559" cy="295" r="2" fill="#fff" stroke-width="1.1"/>
<path d="M505,270 C513.17,270 513.17,281 505,281 C513.17,281 513.17,292 505,292 C513.17,292 513.17,303 505,303" fill="none" stroke-width="1.6"/>
<circle cx="541" cy="305" r="2.5" fill="#111" stroke="none"/>
<rect x="612" y="128" width="38" height="83" rx="19" ry="19" fill="none" stroke-width="3"/>
<circle cx="685" cy="90" r="2.5" fill="#111" stroke="none"/>
<line x1="624" y1="160" x2="642" y2="160" stroke-width="1.7" stroke-dasharray="3.5 3"/>
<polyline points="620,172 621,175 636,175" fill="none" stroke-width="1.7" stroke-dasharray="3.5 3"/>
<line x1="620" y1="189" x2="644" y2="189" stroke-width="1.7" stroke-dasharray="3.5 3"/>
<circle cx="631" cy="198" r="3.6" fill="#111" stroke="none"/>
<circle cx="631" cy="247" r="2.5" fill="#111" stroke="none"/>
<circle cx="668" cy="340" r="2.5" fill="#111" stroke="none"/>
<rect x="643.5" y="376" width="13" height="4" fill="#fff" stroke="none"/>
<line x1="643.5" y1="376" x2="656.5" y2="376" stroke-width="2.6"/>
<line x1="643.5" y1="380" x2="656.5" y2="380" stroke-width="2.6"/>
<rect x="664.5" y="370" width="7" height="20" rx="1.2" fill="#fff" stroke-width="1.3"/>
<circle cx="668" cy="434" r="2.2" fill="#111" stroke="none"/>
<circle cx="685" cy="190" r="2.5" fill="#111" stroke="none"/>
<circle cx="685" cy="245" r="2.5" fill="#111" stroke="none"/>
<path d="M704,194 C710.21,194 710.21,205 704,205 C710.21,205 710.21,216 704,216 C710.21,216 710.21,227 704,227 C710.21,227 710.21,238 704,238" fill="none" stroke-width="1.6"/>
<rect x="678.5" y="215" width="13" height="4" fill="#fff" stroke="none"/>
<line x1="678.5" y1="215" x2="691.5" y2="215" stroke-width="2.6"/>
<line x1="678.5" y1="219" x2="691.5" y2="219" stroke-width="2.6"/>
<circle cx="686" cy="434" r="2.2" fill="#111" stroke="none"/>
<path d="M723,197 C729.21,197 729.21,207.25 723,207.25 C729.21,207.25 729.21,217.5 723,217.5 C729.21,217.5 729.21,227.75 723,227.75 C729.21,227.75 729.21,238 723,238" fill="none" stroke-width="1.6"/>
<circle cx="741.5" cy="190" r="2.5" fill="#111" stroke="none"/>
<circle cx="741.5" cy="245" r="2.5" fill="#111" stroke="none"/>
<rect x="735" y="215" width="13" height="4" fill="#fff" stroke="none"/>
<line x1="735" y1="215" x2="748" y2="215" stroke-width="2.6"/>
<line x1="735" y1="219" x2="748" y2="219" stroke-width="2.6"/>
<circle cx="705" cy="284" r="2.5" fill="#111" stroke="none"/>
<circle cx="705" cy="340" r="2.5" fill="#111" stroke="none"/>
<rect x="713" y="280.5" width="20" height="7" rx="1.2" fill="#fff" stroke-width="1.3"/>
<circle cx="742" cy="284" r="2.5" fill="#111" stroke="none"/>
<rect x="738.5" y="333" width="7" height="20" rx="1.2" fill="#fff" stroke-width="1.3"/>
<circle cx="742" cy="398" r="2.5" fill="#111" stroke="none"/>
<rect x="765" y="277.5" width="4" height="13" fill="#fff" stroke="none"/>
<line x1="765" y1="277.5" x2="765" y2="290.5" stroke-width="2.6"/>
<line x1="769" y1="277.5" x2="769" y2="290.5" stroke-width="2.6"/>
<circle cx="793" cy="284" r="2.5" fill="#111" stroke="none"/>
<line x1="812" y1="293" x2="796" y2="285" stroke-width="2.1" stroke-linecap="round"/>
<circle cx="812" cy="293" r="2" fill="#fff" stroke-width="1.1"/>
<rect x="826.5" y="313" width="7" height="20" rx="1.2" fill="#fff" stroke-width="1.3"/>
<line x1="814" y1="340" x2="838" y2="312" stroke-width="1.3"/>
<line x1="838" y1="312" x2="838.31" y2="315.99" stroke-width="1.3"/>
<path d="M812,338 L820,336 L816,343 Z" fill="#111" stroke="none"/>
<circle cx="842" cy="312" r="2" fill="#fff" stroke-width="1.1"/>
<rect x="841.5" y="234" width="13" height="4" fill="#fff" stroke="none"/>
<line x1="841.5" y1="234" x2="854.5" y2="234" stroke-width="2.6"/>
<line x1="841.5" y1="238" x2="854.5" y2="238" stroke-width="2.6"/>
<rect x="842.5" y="336" width="13" height="4" fill="#fff" stroke="none"/>
<line x1="842.5" y1="336" x2="855.5" y2="336" stroke-width="2.6"/>
<line x1="842.5" y1="340" x2="855.5" y2="340" stroke-width="2.6"/>
<rect x="845.5" y="368" width="7" height="20" rx="1.2" fill="#fff" stroke-width="1.3"/>
<rect x="698.5" y="376" width="13" height="4" fill="#fff" stroke="none"/>
<line x1="698.5" y1="376" x2="711.5" y2="376" stroke-width="2.6"/>
<line x1="698.5" y1="380" x2="711.5" y2="380" stroke-width="2.6"/>
<rect x="719.5" y="368" width="7" height="20" rx="1.2" fill="#fff" stroke-width="1.3"/>
<path d="M770,317 Q778,323 770,329" fill="none" stroke-width="1.8"/>
<rect x="783" y="317" width="4" height="12" fill="#fff" stroke="none"/>
<line x1="783" y1="317" x2="783" y2="329" stroke-width="2.6"/>
<line x1="787" y1="317" x2="787" y2="329" stroke-width="2.6"/>
<circle cx="795" cy="303" r="1.8" fill="#111" stroke="none"/>
<circle cx="759" cy="350" r="5.5" fill="#fff" stroke-width="1.5"/>
<path d="M770,344 Q778,350 770,356" fill="none" stroke-width="1.8"/>
<rect x="783" y="344" width="4" height="12" fill="#fff" stroke="none"/>
<line x1="783" y1="344" x2="783" y2="356" stroke-width="2.6"/>
<line x1="787" y1="344" x2="787" y2="356" stroke-width="2.6"/>
<path d="M770,366 Q778,372 770,378" fill="none" stroke-width="1.8"/>
<rect x="783" y="366" width="4" height="12" fill="#fff" stroke="none"/>
<line x1="783" y1="366" x2="783" y2="378" stroke-width="2.6"/>
<line x1="787" y1="366" x2="787" y2="378" stroke-width="2.6"/>
<circle cx="795" cy="372" r="1.8" fill="#111" stroke="none"/>
<rect x="765" y="391.5" width="4" height="13" fill="#fff" stroke="none"/>
<line x1="765" y1="391.5" x2="765" y2="404.5" stroke-width="2.6"/>
<line x1="769" y1="391.5" x2="769" y2="404.5" stroke-width="2.6"/>
<circle cx="795" cy="398" r="1.8" fill="#111" stroke="none"/>
<rect x="805.5" y="105" width="13" height="4" fill="#fff" stroke="none"/>
<line x1="805.5" y1="105" x2="818.5" y2="105" stroke-width="2.6"/>
<line x1="805.5" y1="109" x2="818.5" y2="109" stroke-width="2.6"/>
<circle cx="838" cy="122" r="2" fill="#fff" stroke-width="1.1"/>
<circle cx="856" cy="88" r="2.5" fill="#111" stroke="none"/>
<rect x="849.5" y="105" width="13" height="4" fill="#fff" stroke="none"/>
<line x1="849.5" y1="105" x2="862.5" y2="105" stroke-width="2.6"/>
<line x1="849.5" y1="109" x2="862.5" y2="109" stroke-width="2.6"/>
<circle cx="856" cy="122" r="2" fill="#fff" stroke-width="1.1"/>
<line x1="838" y1="122" x2="847" y2="140" stroke-width="2.1" stroke-linecap="round"/>
<circle cx="838" cy="122" r="2" fill="#fff" stroke-width="1.1"/>
<circle cx="847" cy="140" r="2.2" fill="#111" stroke="none"/>
<circle cx="829" cy="140" r="1.8" fill="#111" stroke="none"/>
<circle cx="884" cy="158" r="2.5" fill="#111" stroke="none"/>
<circle cx="884" cy="88" r="2.5" fill="#111" stroke="none"/>
<circle cx="865" cy="140" r="1.8" fill="#111" stroke="none"/>
<rect x="871" y="133.5" width="4" height="13" fill="#fff" stroke="none"/>
<line x1="871" y1="133.5" x2="871" y2="146.5" stroke-width="2.6"/>
<line x1="875" y1="133.5" x2="875" y2="146.5" stroke-width="2.6"/>
<rect x="900" y="127" width="39" height="84" rx="19.5" ry="19.5" fill="none" stroke-width="3"/>
<line x1="912" y1="158" x2="931" y2="158" stroke-width="1.7" stroke-dasharray="3.5 3"/>
<polyline points="909,168 910,171 927,171" fill="none" stroke-width="1.7" stroke-dasharray="3.5 3"/>
<line x1="906" y1="187" x2="931" y2="187" stroke-width="1.7" stroke-dasharray="3.5 3"/>
<circle cx="919" cy="197" r="3.6" fill="#111" stroke="none"/>
<circle cx="866" cy="187" r="2.5" fill="#111" stroke="none"/>
<rect x="862.5" y="225" width="7" height="20" rx="1.2" fill="#fff" stroke-width="1.3"/>
<circle cx="919" cy="245" r="2.5" fill="#111" stroke="none"/>
<circle cx="920" cy="264" r="2.5" fill="#111" stroke="none"/>
<rect x="936" y="257.5" width="4" height="13" fill="#fff" stroke="none"/>
<line x1="936" y1="257.5" x2="936" y2="270.5" stroke-width="2.6"/>
<line x1="940" y1="257.5" x2="940" y2="270.5" stroke-width="2.6"/>
<circle cx="974" cy="264" r="2.5" fill="#111" stroke="none"/>
<circle cx="973" cy="88" r="2.5" fill="#111" stroke="none"/>
<circle cx="973" cy="108" r="2.5" fill="#111" stroke="none"/>
<circle cx="973" cy="126" r="2.5" fill="#111" stroke="none"/>
<circle cx="973" cy="187" r="2.5" fill="#111" stroke="none"/>
<rect x="969.5" y="215" width="7" height="20" rx="1.2" fill="#fff" stroke-width="1.3"/>
<rect x="986" y="102" width="4" height="12" fill="#fff" stroke="none"/>
<line x1="986" y1="102" x2="986" y2="114" stroke-width="2.6"/>
<line x1="990" y1="102" x2="990" y2="114" stroke-width="2.6"/>
<circle cx="1008" cy="88" r="2.5" fill="#111" stroke="none"/>
<rect x="1007" y="120" width="4" height="12" fill="#fff" stroke="none"/>
<line x1="1007" y1="120" x2="1007" y2="132" stroke-width="2.6"/>
<line x1="1011" y1="120" x2="1011" y2="132" stroke-width="2.6"/>
<rect x="981" y="84.5" width="20" height="7" rx="1.2" fill="#fff" stroke-width="1.3"/>
<rect x="1016" y="84.5" width="20" height="7" rx="1.2" fill="#fff" stroke-width="1.3"/>
<rect x="1053" y="84.5" width="20" height="7" rx="1.2" fill="#fff" stroke-width="1.3"/>
<circle cx="1045" cy="88" r="2.5" fill="#111" stroke="none"/>
<circle cx="1081" cy="88" r="2.5" fill="#111" stroke="none"/>
<circle cx="1136" cy="88" r="2.5" fill="#111" stroke="none"/>
<rect x="1038.5" y="106" width="13" height="4" fill="#fff" stroke="none"/>
<line x1="1038.5" y1="106" x2="1051.5" y2="106" stroke-width="2.6"/>
<line x1="1038.5" y1="110" x2="1051.5" y2="110" stroke-width="2.6"/>
<circle cx="1081" cy="244" r="2.5" fill="#111" stroke="none"/>
<circle cx="1136" cy="244" r="2.5" fill="#111" stroke="none"/>
<circle cx="1081" cy="126" r="2.5" fill="#111" stroke="none"/>
<rect x="1074.5" y="155" width="13" height="4" fill="#fff" stroke="none"/>
<line x1="1074.5" y1="155" x2="1087.5" y2="155" stroke-width="2.6"/>
<line x1="1074.5" y1="159" x2="1087.5" y2="159" stroke-width="2.6"/>
<rect x="980" y="181" width="4" height="12" fill="#fff" stroke="none"/>
<line x1="980" y1="181" x2="980" y2="193" stroke-width="2.6"/>
<line x1="984" y1="181" x2="984" y2="193" stroke-width="2.6"/>
<circle cx="991" cy="187" r="2.5" fill="#111" stroke="none"/>
<rect x="1008" y="183.5" width="20" height="7" rx="1.2" fill="#fff" stroke-width="1.3"/>
<circle cx="1009" cy="283" r="2.5" fill="#111" stroke="none"/>
<circle cx="1028" cy="283" r="2.5" fill="#111" stroke="none"/>
<circle cx="1081" cy="283" r="2.5" fill="#111" stroke="none"/>
<circle cx="1173" cy="283" r="2.5" fill="#111" stroke="none"/>
<rect x="1044" y="279.5" width="20" height="7" rx="1.2" fill="#fff" stroke-width="1.3"/>
<rect x="1002.5" y="375" width="13" height="4" fill="#fff" stroke="none"/>
<line x1="1002.5" y1="375" x2="1015.5" y2="375" stroke-width="2.6"/>
<line x1="1002.5" y1="379" x2="1015.5" y2="379" stroke-width="2.6"/>
<rect x="1024.5" y="367" width="7" height="20" rx="1.2" fill="#fff" stroke-width="1.3"/>
<rect x="1077.5" y="367" width="7" height="20" rx="1.2" fill="#fff" stroke-width="1.3"/>
<rect x="1169.5" y="367" width="7" height="20" rx="1.2" fill="#fff" stroke-width="1.3"/>
<rect x="1130.5" y="459" width="13" height="4" fill="#fff" stroke="none"/>
<line x1="1130.5" y1="459" x2="1143.5" y2="459" stroke-width="2.6"/>
<line x1="1130.5" y1="463" x2="1143.5" y2="463" stroke-width="2.6"/>
<circle cx="1137" cy="489" r="2.5" fill="#111" stroke="none"/>
<circle cx="1173" cy="190" r="2.5" fill="#111" stroke="none"/>
<rect x="1150" y="45" width="4" height="12" fill="#fff" stroke="none"/>
<line x1="1150" y1="45" x2="1150" y2="57" stroke-width="2.6"/>
<line x1="1154" y1="45" x2="1154" y2="57" stroke-width="2.6"/>
<circle cx="956" cy="338" r="2.5" fill="#111" stroke="none"/>
<rect x="931.5" y="376" width="13" height="4" fill="#fff" stroke="none"/>
<line x1="931.5" y1="376" x2="944.5" y2="376" stroke-width="2.6"/>
<line x1="931.5" y1="380" x2="944.5" y2="380" stroke-width="2.6"/>
<rect x="952.5" y="367" width="7" height="20" rx="1.2" fill="#fff" stroke-width="1.3"/>
<rect x="970.5" y="367" width="7" height="20" rx="1.2" fill="#fff" stroke-width="1.3"/>
<rect x="988.5" y="367" width="7" height="20" rx="1.2" fill="#fff" stroke-width="1.3"/>
<circle cx="974" cy="432" r="2.2" fill="#111" stroke="none"/>
<circle cx="1195" cy="432" r="2.4" fill="#111" stroke="none"/>
<rect x="1117" y="125" width="38" height="84" rx="19" ry="19" fill="none" stroke-width="3"/>
<line x1="1125" y1="156" x2="1147" y2="156" stroke-width="1.7" stroke-dasharray="3.5 3"/>
<polyline points="1125,168.5 1126,171.5 1144,171.5" fill="none" stroke-width="1.7" stroke-dasharray="3.5 3"/>
<line x1="1125" y1="187" x2="1150" y2="187" stroke-width="1.5" stroke-dasharray="3.5 3"/>
<circle cx="1135.5" cy="197.5" r="3.6" fill="#111" stroke="none"/>
<rect x="1189.5" y="88" width="7" height="85" fill="#111" stroke="none"/>
<rect x="1206" y="88" width="6.5" height="85" fill="#111" stroke="none"/>
<path d="M1258,81 Q1248,88 1258,95" fill="none" stroke-width="2"/>
<path d="M1258,165 Q1248,172 1258,179" fill="none" stroke-width="2"/>
<circle cx="1230" cy="88" r="2" fill="#111" stroke="none"/>
<circle cx="1230" cy="172" r="2" fill="#111" stroke="none"/>
<rect x="1221" y="117" width="20" height="25" fill="#fff" stroke-width="1.6"/>
<polyline points="1243,117 1258,103 1258,152 1243,140" fill="none" stroke-width="1.6"/>
<circle cx="150" cy="625" r="29.5" fill="none" stroke-width="1.8"/>
<circle cx="138" cy="596" r="2.3" fill="#111" stroke="none"/>
<circle cx="162" cy="596" r="2.3" fill="#111" stroke="none"/>
<circle cx="179" cy="614" r="2.3" fill="#111" stroke="none"/>
<circle cx="179" cy="637" r="2.3" fill="#111" stroke="none"/>
<circle cx="121" cy="614" r="2.3" fill="#111" stroke="none"/>
<circle cx="121" cy="637" r="2.3" fill="#111" stroke="none"/>
<circle cx="139" cy="653" r="2.3" fill="#111" stroke="none"/>
<circle cx="162" cy="653" r="2.3" fill="#111" stroke="none"/>
<path d="M147,655 L153,655 L150,660 Z" fill="#fff" stroke-width="1"/>
<rect x="257" y="510" width="12" height="6" rx="3" fill="#111" stroke="none"/>
<line x1="306" y1="513" x2="325" y2="506" stroke-width="2.1" stroke-linecap="round"/>
<circle cx="306" cy="513" r="2" fill="#fff" stroke-width="1.1"/>
<circle cx="327" cy="513" r="2.2" fill="#111" stroke="none"/>
<circle cx="363" cy="512" r="2.5" fill="#111" stroke="none"/>
<circle cx="396" cy="512" r="2.5" fill="#111" stroke="none"/>
<circle cx="507" cy="511" r="2.5" fill="#111" stroke="none"/>
<circle cx="706" cy="511" r="2.5" fill="#111" stroke="none"/>
<circle cx="992" cy="510" r="2.5" fill="#111" stroke="none"/>
<rect x="257" y="732" width="12" height="6" rx="3" fill="#111" stroke="none"/>
<line x1="308" y1="735" x2="326" y2="729" stroke-width="2.1" stroke-linecap="round"/>
<circle cx="308" cy="735" r="2" fill="#fff" stroke-width="1.1"/>
<circle cx="328" cy="735" r="2.2" fill="#111" stroke="none"/>
<circle cx="363" cy="734" r="2.5" fill="#111" stroke="none"/>
<rect x="389.5" y="729.5" width="21" height="7" rx="1.2" fill="#fff" stroke-width="1.3"/>
<line x1="306" y1="513" x2="325" y2="506" stroke-width="2.4" stroke-linecap="round"/>
<line x1="308" y1="735" x2="326" y2="729" stroke-width="2.4" stroke-linecap="round"/>
<circle cx="306" cy="513" r="2" fill="#fff" stroke-width="1.1"/>
<circle cx="308" cy="735" r="2" fill="#fff" stroke-width="1.1"/>
<rect x="356.5" y="622" width="13" height="4" fill="#fff" stroke="none"/>
<line x1="356.5" y1="622" x2="369.5" y2="622" stroke-width="2.6"/>
<line x1="356.5" y1="626" x2="369.5" y2="626" stroke-width="2.6"/>
<path d="M396,518 C383,518 383,542 396,542" fill="none" stroke-width="1.6"/>
<path d="M396,556 C383,556 383,580 396,580" fill="none" stroke-width="1.6"/>
<path d="M396,592 C383,592 383,616 396,616" fill="none" stroke-width="1.6"/>
<path d="M396,627 C383,627 383,651 396,651" fill="none" stroke-width="1.6"/>
<rect x="441.5" y="582.5" width="21" height="7" rx="1.2" fill="#fff" stroke-width="1.3"/>
<circle cx="489" cy="586" r="2.5" fill="#111" stroke="none"/>
<circle cx="489" cy="659" r="2.5" fill="#111" stroke="none"/>
<rect x="525" y="544.5" width="20" height="7" rx="2.5" fill="#111" stroke="none"/>
<rect x="596" y="544.5" width="19" height="7" rx="2.5" fill="#111" stroke="none"/>
<rect x="525" y="562.5" width="20" height="7" rx="2.5" fill="#111" stroke="none"/>
<rect x="596" y="562.5" width="19" height="7" rx="2.5" fill="#111" stroke="none"/>
<rect x="525" y="581.5" width="20" height="7" rx="2.5" fill="#111" stroke="none"/>
<rect x="596" y="581.5" width="19" height="7" rx="2.5" fill="#111" stroke="none"/>
<rect x="525" y="599.5" width="20" height="7" rx="2.5" fill="#111" stroke="none"/>
<rect x="596" y="599.5" width="19" height="7" rx="2.5" fill="#111" stroke="none"/>
<rect x="525" y="654.5" width="20" height="7" rx="2.5" fill="#111" stroke="none"/>
<rect x="596" y="654.5" width="19" height="7" rx="2.5" fill="#111" stroke="none"/>
<rect x="525" y="673.5" width="20" height="7" rx="2.5" fill="#111" stroke="none"/>
<rect x="596" y="673.5" width="19" height="7" rx="2.5" fill="#111" stroke="none"/>
<rect x="525" y="691.5" width="20" height="7" rx="2.5" fill="#111" stroke="none"/>
<rect x="596" y="691.5" width="19" height="7" rx="2.5" fill="#111" stroke="none"/>
<rect x="525" y="710.5" width="20" height="7" rx="2.5" fill="#111" stroke="none"/>
<rect x="596" y="710.5" width="19" height="7" rx="2.5" fill="#111" stroke="none"/>
<circle cx="507" cy="548" r="2.5" fill="#111" stroke="none"/>
<circle cx="507" cy="566" r="2.5" fill="#111" stroke="none"/>
<circle cx="632" cy="548" r="2.5" fill="#111" stroke="none"/>
<circle cx="632" cy="566" r="2.5" fill="#111" stroke="none"/>
<circle cx="632" cy="585" r="2.5" fill="#111" stroke="none"/>
<circle cx="548" cy="603" r="2.5" fill="#111" stroke="none"/>
<circle cx="591" cy="603" r="2.5" fill="#111" stroke="none"/>
<circle cx="623" cy="603" r="2.5" fill="#111" stroke="none"/>
<circle cx="706" cy="548" r="2.5" fill="#111" stroke="none"/>
<circle cx="706" cy="585" r="2.5" fill="#111" stroke="none"/>
<circle cx="536" cy="639" r="2" fill="#fff" stroke-width="1.1"/>
<circle cx="570" cy="714" r="2.5" fill="#111" stroke="none"/>
<circle cx="549" cy="714" r="2.6" fill="#111" stroke="none"/>
<circle cx="706" cy="529" r="9" fill="#fff" stroke-width="1.8"/>
<line x1="699.6361" y1="522.6361" x2="712.3639" y2="535.3639" stroke-width="1.5"/>
<line x1="699.6361" y1="535.3639" x2="712.3639" y2="522.6361" stroke-width="1.5"/>
<circle cx="706" cy="566" r="9" fill="#fff" stroke-width="1.8"/>
<line x1="699.6361" y1="559.6361" x2="712.3639" y2="572.3639" stroke-width="1.5"/>
<line x1="699.6361" y1="572.3639" x2="712.3639" y2="559.6361" stroke-width="1.5"/>
<path d="M706,590 C693,590 693,616 706,616" fill="none" stroke-width="1.6"/>
<path d="M706,626 C693,626 693,652 706,652" fill="none" stroke-width="1.6"/>
<circle cx="632" cy="658" r="2.5" fill="#111" stroke="none"/>
<rect x="658" y="654.5" width="20" height="7" rx="1.2" fill="#fff" stroke-width="1.3"/>
<rect x="442" y="655.5" width="20" height="7" rx="1.2" fill="#fff" stroke-width="1.3"/>
<circle cx="434" cy="677" r="2.5" fill="#111" stroke="none"/>
<circle cx="507" cy="677" r="2.5" fill="#111" stroke="none"/>
<rect x="442" y="692.5" width="20" height="7" rx="1.2" fill="#fff" stroke-width="1.3"/>
<circle cx="670" cy="695" r="2.5" fill="#111" stroke="none"/>
<circle cx="453" cy="714" r="2.5" fill="#111" stroke="none"/>
<rect x="449.5" y="742" width="7" height="20" rx="1.2" fill="#fff" stroke-width="1.3"/>
<circle cx="453" cy="772" r="2.5" fill="#111" stroke="none"/>
<circle cx="471" cy="772" r="2.5" fill="#111" stroke="none"/>
<rect x="560" y="767.5" width="20" height="7" rx="1.2" fill="#fff" stroke-width="1.3"/>
<circle cx="592" cy="714" r="2.5" fill="#111" stroke="none"/>
<circle cx="634" cy="714" r="2.5" fill="#111" stroke="none"/>
<circle cx="706" cy="714" r="2.5" fill="#111" stroke="none"/>
<circle cx="706" cy="548" r="2.5" fill="#111" stroke="none"/>
<rect x="777" y="593" width="40" height="83" rx="20" ry="20" fill="none" stroke-width="3"/>
<circle cx="798" cy="529" r="2.5" fill="#111" stroke="none"/>
<circle cx="814" cy="529" r="2.5" fill="#111" stroke="none"/>
<rect x="794.5" y="543" width="7" height="20" rx="1.2" fill="#fff" stroke-width="1.3"/>
<rect x="810.5" y="543" width="7" height="20" rx="1.2" fill="#fff" stroke-width="1.3"/>
<circle cx="795" cy="637" r="2.2" fill="#fff" stroke-width="1.1"/>
<circle cx="787" cy="637" r="2.2" fill="#fff" stroke-width="1.1"/>
<circle cx="803" cy="637" r="2.2" fill="#fff" stroke-width="1.1"/>
<circle cx="795" cy="630" r="2" fill="#fff" stroke-width="1.1"/>
<circle cx="795" cy="644" r="2" fill="#fff" stroke-width="1.1"/>
<line x1="783" y1="654" x2="813" y2="654" stroke-width="1.8" stroke-dasharray="4 3.5"/>
<circle cx="797" cy="663" r="3.6" fill="#111" stroke="none"/>
<circle cx="904" cy="712" r="30" fill="#fff" stroke-width="2.6"/>
<line x1="894" y1="700" x2="894" y2="724" stroke-width="2.4"/>
<circle cx="922" cy="712" r="3.6" fill="#111" stroke="none"/>
<circle cx="957" cy="712" r="2.5" fill="#111" stroke="none"/>
<circle cx="992" cy="712" r="2.5" fill="#111" stroke="none"/>
<circle cx="992" cy="470" r="2.5" fill="#111" stroke="none"/>
<circle cx="992" cy="510" r="2.5" fill="#111" stroke="none"/>
<circle cx="992" cy="546" r="2.5" fill="#111" stroke="none"/>
<circle cx="992" cy="565" r="2.5" fill="#111" stroke="none"/>
<rect x="1005" y="464" width="4" height="13" fill="#fff" stroke-width="1.3"/>
<circle cx="1046" cy="489" r="2.5" fill="#111" stroke="none"/>
<rect x="1042.5" y="508" width="7" height="20" rx="1.2" fill="#fff" stroke-width="1.3"/>
<rect x="1008" y="542.5" width="20" height="7" rx="1.2" fill="#fff" stroke-width="1.3"/>
<circle cx="1046" cy="546" r="2.5" fill="#111" stroke="none"/>
<rect x="1062" y="542.5" width="20" height="7" rx="1.2" fill="#fff" stroke-width="1.3"/>
<rect x="1146.5" y="558" width="4.5" height="14" fill="#fff" stroke-width="1.3"/>
<line x1="1144.5" y1="558" x2="1144.5" y2="572" stroke-width="2.6"/>
<circle cx="1195" cy="565" r="2.5" fill="#111" stroke="none"/>
<rect x="985.5" y="637" width="14.5" height="5" fill="#fff" stroke-width="1.3"/>
<line x1="986" y1="635" x2="999" y2="635" stroke-width="2.6"/>
<rect x="1191" y="619" width="9" height="36" rx="1" fill="#111" stroke="none"/>
</g>
<g fill="#111" stroke="#111" stroke-width="0.3">
<text x="230" y="17.5" font-size="13.5" text-anchor="start" font-weight="bold" font-style="italic" font-family="Liberation Sans">UCH 21</text>
<text x="608" y="14" font-size="12.5" text-anchor="start" font-weight="bold" font-style="italic" font-family="Liberation Sans">UF 21/1</text>
<text x="760" y="14" font-size="12.5" text-anchor="start" font-weight="bold" font-style="italic" font-family="Liberation Sans">UM 4</text>
<text x="896" y="14" font-size="12.5" text-anchor="start" font-weight="bold" font-style="italic" font-family="Liberation Sans">UF 21/2</text>
<text x="1118" y="14" font-size="12.5" text-anchor="start" font-weight="bold" font-style="italic" font-family="Liberation Sans">UBL 21</text>
<text x="44" y="155" font-size="8" text-anchor="start" font-weight="normal" font-style="italic" font-family="Liberation Sans">5n</text>
<text x="45" y="464" font-size="8" text-anchor="start" font-weight="normal" font-style="italic" font-family="Liberation Sans">5n</text>
<text x="150" y="184" font-size="8" text-anchor="start" font-weight="normal" font-style="italic" font-family="Liberation Sans">100p</text>
<text x="-4" y="378" font-size="8" text-anchor="start" font-weight="normal" font-style="italic" font-family="Liberation Sans">10k</text>
<text x="154" y="447" font-size="8" text-anchor="start" font-weight="normal" font-style="italic" font-family="Liberation Sans">20n</text>
<text x="166" y="367" font-size="7" text-anchor="start" font-weight="normal" font-style="italic" font-family="Liberation Sans">1M</text>
<text x="0" y="0" font-size="9" text-anchor="start" font-weight="normal" font-style="italic" font-family="Liberation Sans" transform="translate(195.5,283) rotate(-90) scale(1,1)">75V</text>
<text x="202" y="370" font-size="9" text-anchor="start" font-weight="normal" font-style="italic" font-family="Liberation Sans">22</text>
<text x="204" y="381" font-size="8" text-anchor="start" font-weight="normal" font-style="italic" font-family="Liberation Sans">k</text>
<text x="229" y="341" font-size="8" text-anchor="start" font-weight="normal" font-style="italic" font-family="Liberation Sans">0,1μ</text>
<text x="222" y="256" font-size="10" text-anchor="start" font-weight="normal" font-style="italic" font-family="Liberation Sans">220Ω</text>
<text x="246" y="127" font-size="8" text-anchor="start" font-weight="normal" font-style="italic" font-family="Liberation Sans">1</text>
<text x="264" y="127" font-size="8" text-anchor="start" font-weight="normal" font-style="italic" font-family="Liberation Sans">2</text>
<text x="225" y="163" font-size="8" text-anchor="start" font-weight="normal" font-style="italic" font-family="Liberation Sans">4</text>
<text x="225" y="185" font-size="9" text-anchor="start" font-weight="normal" font-style="italic" font-family="Liberation Sans">6</text>
<text x="225" y="203" font-size="9" text-anchor="start" font-weight="normal" font-style="italic" font-family="Liberation Sans">5</text>
<text x="276" y="181" font-size="8" text-anchor="start" font-weight="normal" font-style="italic" font-family="Liberation Sans">3</text>
<text x="257" y="223" font-size="8" text-anchor="start" font-weight="normal" font-style="italic" font-family="Liberation Sans">7</text>
<text x="262" y="279" font-size="8" text-anchor="start" font-weight="normal" font-style="italic" font-family="Liberation Sans">47k</text>
<text x="328" y="88" font-size="8" text-anchor="start" font-weight="normal" font-style="italic" font-family="Liberation Sans">150V</text>
<text x="330" y="108" font-size="8" text-anchor="start" font-weight="normal" font-style="italic" font-family="Liberation Sans">90V</text>
<text x="287" y="164" font-size="9" text-anchor="start" font-weight="normal" font-style="italic" font-family="Liberation Sans">500p</text>
<text x="350" y="412" font-size="8" text-anchor="start" font-weight="normal" font-style="italic" font-family="Liberation Sans">100p</text>
<text x="321" y="219" font-size="8" text-anchor="start" font-weight="normal" font-style="italic" font-family="Liberation Sans">18p</text>
<text x="352" y="303" font-size="8" text-anchor="start" font-weight="normal" font-style="italic" font-family="Liberation Sans">330p</text>
<text x="410" y="146" font-size="8" text-anchor="start" font-weight="normal" font-style="italic" font-family="Liberation Sans">50p</text>
<text x="436" y="399" font-size="8" text-anchor="start" font-weight="normal" font-style="italic" font-family="Liberation Sans">33</text>
<text x="438" y="409" font-size="8" text-anchor="start" font-weight="normal" font-style="italic" font-family="Liberation Sans">k</text>
<text x="456" y="398" font-size="8" text-anchor="start" font-weight="normal" font-style="italic" font-family="Liberation Sans">0,1</text>
<text x="458" y="408" font-size="9" text-anchor="start" font-weight="normal" font-style="italic" font-family="Liberation Sans">μ</text>
<text x="494" y="384" font-size="8" text-anchor="start" font-weight="normal" font-style="italic" font-family="Liberation Sans">10K</text>
<text x="452" y="188" font-size="9" text-anchor="start" font-weight="normal" font-style="italic" font-family="Liberation Sans">200p</text>
<text x="548" y="222" font-size="9" text-anchor="start" font-weight="normal" font-style="italic" font-family="Liberation Sans">200p</text>
<text x="645" y="86" font-size="9" text-anchor="start" font-weight="normal" font-style="italic" font-family="Liberation Sans">175V</text>
<text x="632" y="124" font-size="8" text-anchor="start" font-weight="normal" font-style="italic" font-family="Liberation Sans">1</text>
<text x="604" y="156" font-size="8" text-anchor="start" font-weight="normal" font-style="italic" font-family="Liberation Sans">3</text>
<text x="654" y="173" font-size="8" text-anchor="start" font-weight="normal" font-style="italic" font-family="Liberation Sans">2</text>
<text x="603" y="186" font-size="8" text-anchor="start" font-weight="normal" font-style="italic" font-family="Liberation Sans">5</text>
<text x="634" y="223" font-size="8" text-anchor="start" font-weight="normal" font-style="italic" font-family="Liberation Sans">6</text>
<text x="636" y="390" font-size="8" text-anchor="start" font-weight="normal" font-style="italic" font-family="Liberation Sans">0,1</text>
<text x="638" y="400" font-size="9" text-anchor="start" font-weight="normal" font-style="italic" font-family="Liberation Sans">μ</text>
<text x="654" y="390" font-size="8" text-anchor="start" font-weight="normal" font-style="italic" font-family="Liberation Sans">47</text>
<text x="656" y="400" font-size="8" text-anchor="start" font-weight="normal" font-style="italic" font-family="Liberation Sans">k</text>
<text x="0" y="0" font-size="9" text-anchor="start" font-weight="normal" font-style="italic" font-family="Liberation Sans" transform="translate(665,290) rotate(-90) scale(1,1)">80V</text>
<text x="690" y="183" font-size="9" text-anchor="start" font-weight="normal" font-style="italic" font-family="Liberation Sans">200p</text>
<text x="751" y="220" font-size="9" text-anchor="start" font-weight="normal" font-style="italic" font-family="Liberation Sans">200p</text>
<text x="714" y="277" font-size="8" text-anchor="start" font-weight="normal" font-style="italic" font-family="Liberation Sans">0,1M</text>
<text x="727" y="342" font-size="8" text-anchor="start" font-weight="normal" font-style="italic" font-family="Liberation Sans">2,2</text>
<text x="729" y="352" font-size="8" text-anchor="start" font-weight="normal" font-style="italic" font-family="Liberation Sans">M</text>
<text x="759" y="274" font-size="8" text-anchor="start" font-weight="normal" font-style="italic" font-family="Liberation Sans">10n</text>
<text x="829" y="240" font-size="8" text-anchor="start" font-weight="normal" font-style="italic" font-family="Liberation Sans">10n</text>
<text x="811" y="323" font-size="8" text-anchor="start" font-weight="normal" font-style="italic" font-family="Liberation Sans">1M</text>
<text x="855" y="342" font-size="8" text-anchor="start" font-weight="normal" font-style="italic" font-family="Liberation Sans">10n</text>
<text x="855" y="382" font-size="8" text-anchor="start" font-weight="normal" font-style="italic" font-family="Liberation Sans">22k</text>
<text x="689" y="390" font-size="8" text-anchor="start" font-weight="normal" font-style="italic" font-family="Liberation Sans">200</text>
<text x="693" y="401" font-size="8" text-anchor="start" font-weight="normal" font-style="italic" font-family="Liberation Sans">p</text>
<text x="708" y="398" font-size="8" text-anchor="start" font-weight="normal" font-style="italic" font-family="Liberation Sans">470</text>
<text x="712" y="408" font-size="8" text-anchor="start" font-weight="normal" font-style="italic" font-family="Liberation Sans">k</text>
<text x="778" y="313" font-size="8" text-anchor="start" font-weight="normal" font-style="italic" font-family="Liberation Sans">10n</text>
<text x="790" y="342" font-size="8" text-anchor="start" font-weight="normal" font-style="italic" font-family="Liberation Sans">5n</text>
<text x="797" y="385" font-size="8" text-anchor="start" font-weight="normal" font-style="italic" font-family="Liberation Sans">10n</text>
<text x="748" y="391" font-size="8" text-anchor="start" font-weight="normal" font-style="italic" font-family="Liberation Sans">20n</text>
<text x="783.5" y="111" font-size="9" text-anchor="start" font-weight="normal" font-style="italic" font-family="Liberation Sans">500p</text>
<text x="837" y="111" font-size="8" text-anchor="start" font-weight="normal" font-style="italic" font-family="Liberation Sans">2n</text>
<text x="881" y="151" font-size="8" text-anchor="start" font-weight="normal" font-style="italic" font-family="Liberation Sans">5n</text>
<text x="872" y="240" font-size="8" text-anchor="start" font-weight="normal" font-style="italic" font-family="Liberation Sans">1M</text>
<text x="921" y="122" font-size="8" text-anchor="start" font-weight="normal" font-style="italic" font-family="Liberation Sans">1</text>
<text x="893" y="167" font-size="8" text-anchor="start" font-weight="normal" font-style="italic" font-family="Liberation Sans">3</text>
<text x="943" y="168" font-size="8" text-anchor="start" font-weight="normal" font-style="italic" font-family="Liberation Sans">2</text>
<text x="893" y="195" font-size="8" text-anchor="start" font-weight="normal" font-style="italic" font-family="Liberation Sans">5</text>
<text x="923" y="220" font-size="8" text-anchor="start" font-weight="normal" font-style="italic" font-family="Liberation Sans">6</text>
<text x="0" y="0" font-size="9" text-anchor="start" font-weight="normal" font-style="italic" font-family="Liberation Sans" transform="translate(952,238) rotate(-90) scale(1,1)">25V</text>
<text x="931" y="256" font-size="8" text-anchor="start" font-weight="normal" font-style="italic" font-family="Liberation Sans">0,5μ</text>
<text x="0" y="0" font-size="8" text-anchor="start" font-weight="normal" font-style="italic" font-family="Liberation Sans" transform="translate(960,222) rotate(-90) scale(1,1)">0,1</text>
<text x="968" y="232" font-size="7" text-anchor="start" font-weight="normal" font-style="italic" font-family="Liberation Sans">M</text>
<text x="977" y="102" font-size="7" text-anchor="start" font-weight="normal" font-style="italic" font-family="Liberation Sans">1n</text>
<text x="1000" y="143" font-size="8" text-anchor="start" font-weight="normal" font-style="italic" font-family="Liberation Sans">25p</text>
<text x="983" y="80" font-size="8" text-anchor="start" font-weight="normal" font-style="italic" font-family="Liberation Sans">3M</text>
<text x="1018" y="80" font-size="8" text-anchor="start" font-weight="normal" font-style="italic" font-family="Liberation Sans">1M</text>
<text x="1052" y="80" font-size="8" text-anchor="start" font-weight="normal" font-style="italic" font-family="Liberation Sans">470k</text>
<text x="1106" y="85" font-size="8" text-anchor="start" font-weight="normal" font-style="italic" font-family="Liberation Sans">165V</text>
<text x="1053" y="112" font-size="8" text-anchor="start" font-weight="normal" font-style="italic" font-family="Liberation Sans">500p</text>
<text x="1059" y="161" font-size="8" text-anchor="start" font-weight="normal" font-style="italic" font-family="Liberation Sans">10n</text>
<text x="974" y="179" font-size="8" text-anchor="start" font-weight="normal" font-style="italic" font-family="Liberation Sans">20n</text>
<text x="1010" y="180" font-size="8" text-anchor="start" font-weight="normal" font-style="italic" font-family="Liberation Sans">2,2k</text>
<text x="1046" y="275" font-size="8" text-anchor="start" font-weight="normal" font-style="italic" font-family="Liberation Sans">1M</text>
<text x="1001" y="392" font-size="8" text-anchor="start" font-weight="normal" font-style="italic" font-family="Liberation Sans">50</text>
<text x="1003" y="401" font-size="8" text-anchor="start" font-weight="normal" font-style="italic" font-family="Liberation Sans">n</text>
<text x="1034" y="381" font-size="8" text-anchor="start" font-weight="normal" font-style="italic" font-family="Liberation Sans">2,2M</text>
<text x="1087" y="381" font-size="8" text-anchor="start" font-weight="normal" font-style="italic" font-family="Liberation Sans">1M</text>
<text x="1153" y="381" font-size="8" text-anchor="start" font-weight="normal" font-style="italic" font-family="Liberation Sans">1M</text>
<text x="1145" y="465" font-size="8" text-anchor="start" font-weight="normal" font-style="italic" font-family="Liberation Sans">50n</text>
<text x="1146" y="42" font-size="8" text-anchor="start" font-weight="normal" font-style="italic" font-family="Liberation Sans">18p</text>
<text x="927" y="390" font-size="8" text-anchor="start" font-weight="normal" font-style="italic" font-family="Liberation Sans">0,1</text>
<text x="929" y="400" font-size="9" text-anchor="start" font-weight="normal" font-style="italic" font-family="Liberation Sans">μ</text>
<text x="940" y="358" font-size="8" text-anchor="start" font-weight="normal" font-style="italic" font-family="Liberation Sans">220</text>
<text x="944" y="367" font-size="7" text-anchor="start" font-weight="normal" font-style="italic" font-family="Liberation Sans">k</text>
<text x="962" y="358" font-size="8" text-anchor="start" font-weight="normal" font-style="italic" font-family="Liberation Sans">22</text>
<text x="966" y="367" font-size="7" text-anchor="start" font-weight="normal" font-style="italic" font-family="Liberation Sans">k</text>
<text x="977" y="358" font-size="8" text-anchor="start" font-weight="normal" font-style="italic" font-family="Liberation Sans">470</text>
<text x="982" y="367" font-size="7" text-anchor="start" font-weight="normal" font-style="italic" font-family="Liberation Sans">k</text>
<text x="1040" y="429" font-size="8" text-anchor="start" font-weight="normal" font-style="italic" font-family="Liberation Sans">175V</text>
<text x="1139" y="121" font-size="8" text-anchor="start" font-weight="normal" font-style="italic" font-family="Liberation Sans">1</text>
<text x="1160" y="168" font-size="8" text-anchor="start" font-weight="normal" font-style="italic" font-family="Liberation Sans">3</text>
<text x="1110" y="182" font-size="8" text-anchor="start" font-weight="normal" font-style="italic" font-family="Liberation Sans">2</text>
<text x="1139" y="220" font-size="8" text-anchor="start" font-weight="normal" font-style="italic" font-family="Liberation Sans">6</text>
<text x="132" y="593" font-size="7" text-anchor="start" font-weight="normal" font-style="italic" font-family="Liberation Sans">3</text>
<text x="164" y="593" font-size="7" text-anchor="start" font-weight="normal" font-style="italic" font-family="Liberation Sans">4</text>
<text x="183" y="617" font-size="8" text-anchor="start" font-weight="normal" font-style="italic" font-family="Liberation Sans">5</text>
<text x="182" y="641" font-size="8" text-anchor="start" font-weight="normal" font-style="italic" font-family="Liberation Sans">6</text>
<text x="114" y="617" font-size="8" text-anchor="start" font-weight="normal" font-style="italic" font-family="Liberation Sans">2</text>
<text x="114" y="641" font-size="8" text-anchor="start" font-weight="normal" font-style="italic" font-family="Liberation Sans">1</text>
<text x="136" y="665" font-size="7" text-anchor="start" font-weight="normal" font-style="italic" font-family="Liberation Sans">f</text>
<text x="147" y="666" font-size="7" text-anchor="start" font-weight="normal" font-style="italic" font-family="Liberation Sans">7</text>
<text x="161" y="665" font-size="7" text-anchor="start" font-weight="normal" font-style="italic" font-family="Liberation Sans">f</text>
<text x="0" y="0" font-size="9" text-anchor="start" font-weight="normal" font-style="italic" font-family="Liberation Sans" transform="translate(111,688) rotate(0) scale(1.17,1)">Sockelschaltung</text>
<text x="0" y="0" font-size="17" text-anchor="start" font-weight="bold" font-style="normal" font-family="Liberation Sans" transform="translate(42,574.5) rotate(90) scale(1,1)">AGA</text>
<text x="0" y="0" font-size="24" text-anchor="start" font-weight="bold" font-style="normal" font-family="Liberation Sans" transform="translate(42,630) rotate(90) scale(0.84,1)">1842</text>
<text x="388" y="750" font-size="8" text-anchor="start" font-weight="normal" font-style="italic" font-family="Liberation Sans">0,4A</text>
<text x="338" y="628" font-size="8" text-anchor="start" font-weight="normal" font-style="italic" font-family="Liberation Sans">0,1μ</text>
<text x="398" y="533" font-size="8.5" text-anchor="start" font-weight="normal" font-style="italic" font-family="Liberation Sans">UCH</text>
<text x="399" y="570" font-size="8.5" text-anchor="start" font-weight="normal" font-style="italic" font-family="Liberation Sans">UF/1</text>
<text x="391" y="606" font-size="8.5" text-anchor="start" font-weight="normal" font-style="italic" font-family="Liberation Sans">UF/2</text>
<text x="388" y="641" font-size="8.5" text-anchor="start" font-weight="normal" font-style="italic" font-family="Liberation Sans">UBL</text>
<text x="443" y="578" font-size="8" text-anchor="start" font-weight="normal" font-style="italic" font-family="Liberation Sans">100Ω</text>
<text x="674" y="524" font-size="8" text-anchor="start" font-weight="normal" font-style="italic" font-family="Liberation Sans">110V</text>
<text x="680" y="534" font-size="8" text-anchor="start" font-weight="normal" font-style="italic" font-family="Liberation Sans">4W</text>
<text x="674" y="561" font-size="8" text-anchor="start" font-weight="normal" font-style="italic" font-family="Liberation Sans">110V</text>
<text x="680" y="571" font-size="8" text-anchor="start" font-weight="normal" font-style="italic" font-family="Liberation Sans">4W</text>
<text x="712" y="606" font-size="8" text-anchor="start" font-weight="normal" font-style="italic" font-family="Liberation Sans">UY</text>
<text x="712" y="642" font-size="8" text-anchor="start" font-weight="normal" font-style="italic" font-family="Liberation Sans">UM</text>
<text x="658" y="650" font-size="8" text-anchor="start" font-weight="normal" font-style="italic" font-family="Liberation Sans">475Ω</text>
<text x="443" y="651" font-size="8" text-anchor="start" font-weight="normal" font-style="italic" font-family="Liberation Sans">65Ω</text>
<text x="443" y="689" font-size="8" text-anchor="start" font-weight="normal" font-style="italic" font-family="Liberation Sans">70Ω</text>
<text x="459" y="748" font-size="8" text-anchor="start" font-weight="normal" font-style="italic" font-family="Liberation Sans">90</text>
<text x="460" y="759" font-size="8" text-anchor="start" font-weight="normal" font-style="italic" font-family="Liberation Sans">Ω</text>
<text x="560" y="763" font-size="8" text-anchor="start" font-weight="normal" font-style="italic" font-family="Liberation Sans">125Ω</text>
<text x="345" y="772" font-size="8" text-anchor="start" font-weight="normal" font-style="italic" font-family="Liberation Sans">bei 240V</text>
<text x="345" y="786" font-size="8" text-anchor="start" font-weight="normal" font-style="italic" font-family="Liberation Sans">auftrennen</text>
<text x="769" y="649" font-size="6" text-anchor="start" font-weight="normal" font-style="italic" font-family="Liberation Sans">4</text>
<text x="772" y="557" font-size="7" text-anchor="start" font-weight="normal" font-style="italic" font-family="Liberation Sans">1M</text>
<text x="819" y="557" font-size="7" text-anchor="start" font-weight="normal" font-style="italic" font-family="Liberation Sans">1M</text>
<text x="779" y="590" font-size="8" text-anchor="start" font-weight="normal" font-style="italic" font-family="Liberation Sans">3</text>
<text x="789" y="590" font-size="8" text-anchor="start" font-weight="normal" font-style="italic" font-family="Liberation Sans">5</text>
<text x="800" y="590" font-size="8" text-anchor="start" font-weight="normal" font-style="italic" font-family="Liberation Sans">2</text>
<text x="800" y="689" font-size="8" text-anchor="start" font-weight="normal" font-style="italic" font-family="Liberation Sans">6</text>
<text x="891" y="660" font-size="13" text-anchor="start" font-weight="bold" font-style="italic" font-family="Liberation Sans">UY1</text>
<text x="867" y="708" font-size="7" text-anchor="start" font-weight="normal" font-style="italic" font-family="Liberation Sans">2</text>
<text x="937" y="708" font-size="7" text-anchor="start" font-weight="normal" font-style="italic" font-family="Liberation Sans">6</text>
<text x="1088" y="707" font-size="8" text-anchor="start" font-weight="normal" font-style="italic" font-family="Liberation Sans">190V</text>
<text x="1015" y="484" font-size="9" text-anchor="start" font-weight="normal" font-style="italic" font-family="Liberation Sans">50μ</text>
<text x="1052" y="522" font-size="8" text-anchor="start" font-weight="normal" font-style="italic" font-family="Liberation Sans">1M</text>
<text x="1010" y="538" font-size="8" text-anchor="start" font-weight="normal" font-style="italic" font-family="Liberation Sans">90Ω</text>
<text x="1063" y="538" font-size="8" text-anchor="start" font-weight="normal" font-style="italic" font-family="Liberation Sans">30Ω</text>
<text x="1036" y="557" font-size="8" text-anchor="start" font-weight="normal" font-style="italic" font-family="Liberation Sans">-2,6V</text>
<text x="0" y="0" font-size="8" text-anchor="start" font-weight="normal" font-style="italic" font-family="Liberation Sans" transform="translate(986,576) rotate(-90) scale(1,1)">-10,5V</text>
<text x="1140" y="583" font-size="9" text-anchor="start" font-weight="normal" font-style="italic" font-family="Liberation Sans">32μ</text>
<text x="1002" y="642" font-size="9" text-anchor="start" font-weight="normal" font-style="italic" font-family="Liberation Sans">32μ</text>
</g>
</svg></body></html>
